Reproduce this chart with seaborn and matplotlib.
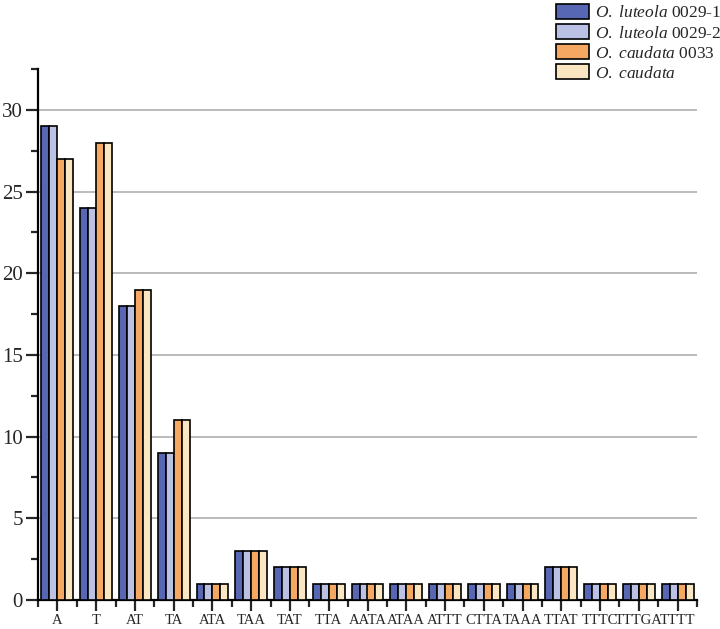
import matplotlib
matplotlib.use("Agg")
import matplotlib.pyplot as plt
import matplotlib.patches as mpatches
from matplotlib.ticker import MultipleLocator, FixedLocator
import numpy as np
import pandas as pd
import seaborn as sns

# repeat motifs
motifs = ["A", "T", "AT", "TA", "ATA", "TAA", "TAT", "TTA", "AATA", "ATAA",
          "ATTT", "CTTA", "TAAA", "TTAT", "TTTC", "TTTGA", "TTTT"]
luteola_1 = [29, 24, 18, 9, 1, 3, 2, 1, 1, 1, 1, 1, 1, 2, 1, 1, 1]
luteola_2 = [29, 24, 18, 9, 1, 3, 2, 1, 1, 1, 1, 1, 1, 2, 1, 1, 1]
caudata_0033 = [27, 28, 19, 11, 1, 3, 2, 1, 1, 1, 1, 1, 1, 2, 1, 1, 1]
caudata = [27, 28, 19, 11, 1, 3, 2, 1, 1, 1, 1, 1, 1, 2, 1, 1, 1]

series = ["luteola_1", "luteola_2", "caudata_0033", "caudata"]
labels = [r"$\it{O.\ luteola}$ 0029-1", r"$\it{O.\ luteola}$ 0029-2",
          r"$\it{O.\ caudata}$ 0033", r"$\it{O.\ caudata}$"]
colors = ["#5767B3", "#BBC1E5", "#F4A862", "#FAE6C0"]

df = pd.DataFrame({"motif": motifs, "luteola_1": luteola_1, "luteola_2": luteola_2,
                   "caudata_0033": caudata_0033, "caudata": caudata})
long = df.melt(id_vars="motif", var_name="sample", value_name="count")

sns.set_style("white")
plt.rcParams["font.family"] = ["Liberation Serif", "DejaVu Serif"]
plt.rcParams["mathtext.fontset"] = "custom"
plt.rcParams["mathtext.rm"] = "Liberation Serif"
plt.rcParams["mathtext.it"] = "Liberation Serif:italic"

fig = plt.figure(figsize=(7.2, 6.29), dpi=100)
ax = fig.add_axes([38 / 720, 1 - 600 / 629, (697 - 38) / 720, (600 - 69) / 629])

sns.barplot(data=long, x="motif", y="count", hue="sample", hue_order=series,
            order=motifs, palette=colors, width=0.82, edgecolor="black",
            linewidth=1.2, saturation=1, legend=False, ax=ax, zorder=3)

ax.set_xlim(-0.5, len(motifs) - 0.5)
ax.set_ylim(0, 32.5)
ax.yaxis.set_major_locator(MultipleLocator(5))
ax.yaxis.set_minor_locator(MultipleLocator(2.5))
ax.xaxis.set_minor_locator(FixedLocator(np.arange(-0.5, len(motifs), 1.0)))
ax.grid(axis="y", which="major", color="#A8A8A8", linewidth=1.1, zorder=0)
ax.set_axisbelow(True)

sns.despine(ax=ax, top=True, right=True)
for s in ["left", "bottom"]:
    ax.spines[s].set_linewidth(1.6)
    ax.spines[s].set_color("black")

ax.tick_params(axis="y", which="major", direction="out", length=9, width=1.6,
               labelsize=15, left=True, pad=2)
ax.tick_params(axis="y", which="minor", direction="out", length=5, width=1.6, left=True)
ax.tick_params(axis="x", which="major", direction="out", length=8, width=1.6,
               labelsize=10.5, bottom=True, pad=2)
ax.tick_params(axis="x", which="minor", direction="out", length=5, width=1.6, bottom=True)
ax.set_xlabel("")
ax.set_ylabel("")

handles = [mpatches.Patch(facecolor=c, edgecolor="black", linewidth=1.2) for c in colors]
fig.legend(handles, labels, loc="upper left", bbox_to_anchor=(556 / 720, 1 - 4 / 629),
           frameon=False, fontsize=12.5, borderpad=0, borderaxespad=0,
           handlelength=1.9, handleheight=0.95, handletextpad=0.35, labelspacing=0.15)

fig.savefig("out.png", dpi=100)
